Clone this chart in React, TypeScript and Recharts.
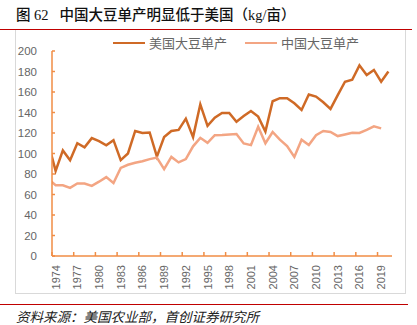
import { LineChart, Line, XAxis, YAxis } from "recharts";

// 1973 is only there so the first segment enters from the left edge like the source
const years = [
  1973, 1974, 1975, 1976, 1977, 1978, 1979, 1980, 1981, 1982, 1983, 1984, 1985,
  1986, 1987, 1988, 1989, 1990, 1991, 1992, 1993, 1994, 1995, 1996, 1997, 1998,
  1999, 2000, 2001, 2002, 2003, 2004, 2005, 2006, 2007, 2008, 2009, 2010, 2011,
  2012, 2013, 2014, 2015, 2016, 2017, 2018, 2019, 2020,
];

const usYield = [
  110, 83, 103, 93.5, 110, 106, 115, 112, 108, 113, 93.5, 100, 122, 120, 120.5,
  97, 116, 122, 123, 134, 116, 148, 127, 135, 139.5, 139.5, 131, 136.5, 141.5,
  136, 121.5, 151, 154, 154, 149, 142.5, 157.5, 155.5, 150, 143.5, 157, 170, 172,
  186, 176.5, 181.5, 170, 180,
];

const cnYield = [
  75, 69, 69, 66.5, 70.7, 70.7, 68.4, 72.5, 77, 71.3, 86, 89, 91, 92.5, 94.5, 96,
  84.7, 96.7, 91.3, 94.5, 107, 115.3, 110.4, 117.9, 118, 118.6, 119, 109.8, 108.2,
  126, 110, 121, 113.5, 107.3, 96.7, 113.5, 108.2, 117.9, 122, 121, 117, 118.6,
  120.2, 120, 123, 126.5, 124.5,
];

const xTicks = [
  1974, 1977, 1980, 1983, 1986, 1989, 1992, 1995, 1998, 2001, 2004, 2007, 2010,
  2013, 2016, 2019,
];
const yTicks = [0, 20, 40, 60, 80, 100, 120, 140, 160, 180, 200];

const US_NAME = "美国大豆单产";
const CN_NAME = "中国大豆单产";
const US_COLOR = "#CF6A26";
const CN_COLOR = "#F3A583";
const AXIS_COLOR = "#F08D45";
const LABEL_COLOR = "#666666";

const W = 417;
const H = 325;
const MARGIN = { top: 51, right: 25, bottom: 29, left: 12 };
const Y_AXIS_W = 40;
const X_AXIS_H = 40;
const PLOT_W = W - MARGIN.left - MARGIN.right - Y_AXIS_W;
const HALF_BAND = PLOT_W / 47 / 2;

const data = years.map((year, i) => ({
  year,
  us: usYield[i],
  cn: i < cnYield.length ? cnYield[i] : null,
}));

function YearTick(props: any) {
  const { x, y, payload } = props;
  const tx = x - HALF_BAND;
  return (
    <g>
      <line x1={tx} x2={tx} y1={y} y2={y - 4} stroke={AXIS_COLOR} strokeWidth={1.5} />
      <text
        transform={`translate(${x},${y + 9}) rotate(-90)`}
        textAnchor="end"
        dominantBaseline="central"
        fill={LABEL_COLOR}
        fontSize={11}
        fontFamily="'Liberation Sans', Arial, sans-serif"
      >
        {payload.value}
      </text>
    </g>
  );
}

export default function App() {
  return (
    <div
      style={{
        position: "absolute",
        left: 0,
        top: 0,
        width: W,
        height: H,
        background: "#fff",
        fontFamily: "'Noto Sans CJK SC', sans-serif",
      }}
    >
      <div
        style={{
          position: "absolute",
          left: 16,
          top: 5,
          fontSize: 14.5,
          fontWeight: 500,
          color: "#111",
          whiteSpace: "pre",
          fontFamily: "'Liberation Serif', 'Noto Sans CJK SC', serif",
          lineHeight: "20px",
        }}
      >
        {"图 62   中国大豆单产明显低于美国（kg/亩）"}
      </div>
      <div style={{ position: "absolute", left: 0, top: 28.5, width: 412, height: 1.5, background: "#C00000" }} />
      <div
        style={{
          position: "absolute",
          left: 15,
          top: 30,
          width: 389,
          height: 263,
          borderLeft: "1px solid #d9d9d9",
          borderRight: "1px solid #d9d9d9",
          borderBottom: "1px solid #d9d9d9",
        }}
      />

      <div
        style={{
          position: "absolute",
          left: 113,
          top: 34,
          display: "flex",
          alignItems: "center",
          fontSize: 13,
          color: LABEL_COLOR,
          lineHeight: "18px",
        }}
      >
        <span style={{ display: "inline-block", width: 32, height: 2.5, background: US_COLOR, marginRight: 4 }} />
        <span style={{ marginRight: 18 }}>{US_NAME}</span>
        <span style={{ display: "inline-block", width: 32, height: 2.5, background: CN_COLOR, marginRight: 4 }} />
        <span>{CN_NAME}</span>
      </div>

      <div style={{ position: "absolute", left: 0, top: 0 }}>
        <LineChart width={W} height={H} data={data} margin={MARGIN}>
          <XAxis
            dataKey="year"
            type="number"
            domain={[1973.5, 2020.5]}
            allowDataOverflow
            ticks={xTicks}
            interval={0}
            height={X_AXIS_H}
            axisLine={{ stroke: AXIS_COLOR, strokeWidth: 1.5 }}
            tickLine={false}
            tickSize={0}
            tickMargin={0}
            tick={<YearTick />}
          />
          <YAxis
            domain={[0, 200]}
            ticks={yTicks}
            interval={0}
            width={Y_AXIS_W}
            axisLine={{ stroke: AXIS_COLOR, strokeWidth: 1.5 }}
            tickLine={{ stroke: AXIS_COLOR, strokeWidth: 1.5 }}
            tickSize={-3}
            tickMargin={18}
            tick={{ fill: LABEL_COLOR, fontSize: 11.5, fontFamily: "'Liberation Sans', Arial, sans-serif" }}
          />
          <Line
            dataKey="us"
            name={US_NAME}
            stroke={US_COLOR}
            strokeWidth={2.5}
            dot={false}
            activeDot={false}
            isAnimationActive={false}
          />
          <Line
            dataKey="cn"
            name={CN_NAME}
            stroke={CN_COLOR}
            strokeWidth={2.5}
            dot={false}
            activeDot={false}
            isAnimationActive={false}
          />
        </LineChart>
      </div>

      <div style={{ position: "absolute", left: 0, top: 303.5, width: 408, height: 1.5, background: "#C00000" }} />
      <div
        style={{
          position: "absolute",
          left: 16,
          top: 307,
          fontSize: 13.5,
          fontStyle: "italic",
          color: "#222",
          lineHeight: "18px",
          whiteSpace: "pre",
        }}
      >
        {"资料来源：美国农业部，首创证券研究所"}
      </div>
    </div>
  );
}
